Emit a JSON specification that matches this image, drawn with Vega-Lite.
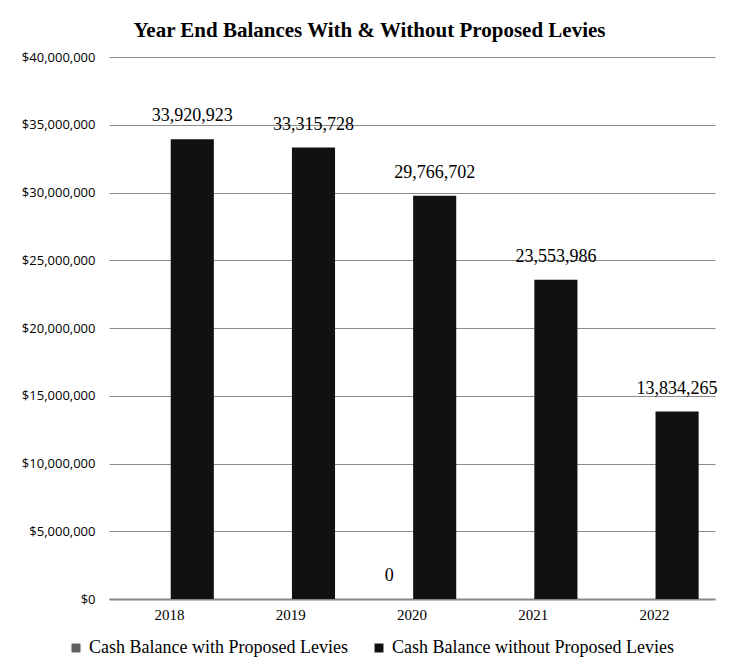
{
  "$schema": "https://vega.github.io/schema/vega-lite/v6.json",
  "width": 606,
  "height": 542,
  "autosize": {"type": "none"},
  "padding": {"left": 109, "right": 21, "top": 57, "bottom": 72},
  "background": "white",
  "title": {
    "text": "Year End Balances With & Without Proposed Levies",
    "font": "Liberation Serif",
    "fontSize": 21,
    "fontWeight": "bold",
    "color": "#000000",
    "anchor": "middle",
    "frame": "bounds",
    "offset": 10
  },
  "config": {"view": {"stroke": null}},
  "data": {
    "values": [
      {"year": "2018", "series": "Cash Balance without Proposed Levies", "value": 33920923},
      {"year": "2019", "series": "Cash Balance without Proposed Levies", "value": 33315728},
      {"year": "2020", "series": "Cash Balance with Proposed Levies", "value": 0},
      {"year": "2020", "series": "Cash Balance without Proposed Levies", "value": 29766702},
      {"year": "2021", "series": "Cash Balance without Proposed Levies", "value": 23553986},
      {"year": "2022", "series": "Cash Balance without Proposed Levies", "value": 13834265}
    ]
  },
  "encoding": {
    "x": {
      "field": "year",
      "type": "nominal",
      "title": null,
      "scale": {"paddingInner": 0.27, "paddingOuter": 0.135},
      "axis": {
        "labelAngle": 0,
        "labelFont": "Liberation Serif",
        "labelFontSize": 15,
        "labelColor": "#000000",
        "labelPadding": 8,
        "ticks": false,
        "domainColor": "#888888",
        "domainWidth": 2,
        "grid": false
      }
    },
    "xOffset": {
      "field": "series",
      "type": "nominal",
      "scale": {
        "domain": ["Cash Balance with Proposed Levies", "Cash Balance without Proposed Levies"],
        "paddingInner": 0.05
      }
    },
    "y": {
      "field": "value",
      "type": "quantitative",
      "title": null,
      "scale": {"domain": [0, 40000000]},
      "axis": {
        "values": [0, 5000000, 10000000, 15000000, 20000000, 25000000, 30000000, 35000000, 40000000],
        "format": "$,.0f",
        "labelFont": "Open Sans",
        "labelFontSize": 13,
        "labelColor": "#000000",
        "labelPadding": 14,
        "ticks": false,
        "domain": false,
        "grid": true,
        "gridColor": "#8c8c8c",
        "gridWidth": 1
      }
    }
  },
  "layer": [
    {
      "mark": {"type": "bar"},
      "encoding": {
        "color": {
          "field": "series",
          "type": "nominal",
          "scale": {
            "domain": ["Cash Balance with Proposed Levies", "Cash Balance without Proposed Levies"],
            "range": ["#5f5f5f", "#111111"]
          },
          "legend": {
            "orient": "none",
            "legendX": -42,
            "legendY": 582,
            "direction": "horizontal",
            "title": null,
            "labelFont": "Liberation Serif",
            "labelFontSize": 18,
            "labelColor": "#000000",
            "symbolType": "square",
            "symbolSize": 80,
            "symbolStrokeWidth": 0,
            "columnPadding": 22,
            "labelLimit": 400
          }
        }
      }
    },
    {
      "mark": {
        "type": "text",
        "font": "Liberation Serif",
        "fontSize": 18,
        "color": "#000000",
        "baseline": "alphabetic",
        "dy": -18
      },
      "encoding": {"text": {"field": "value", "type": "quantitative", "format": ",.0f"}}
    }
  ]
}
